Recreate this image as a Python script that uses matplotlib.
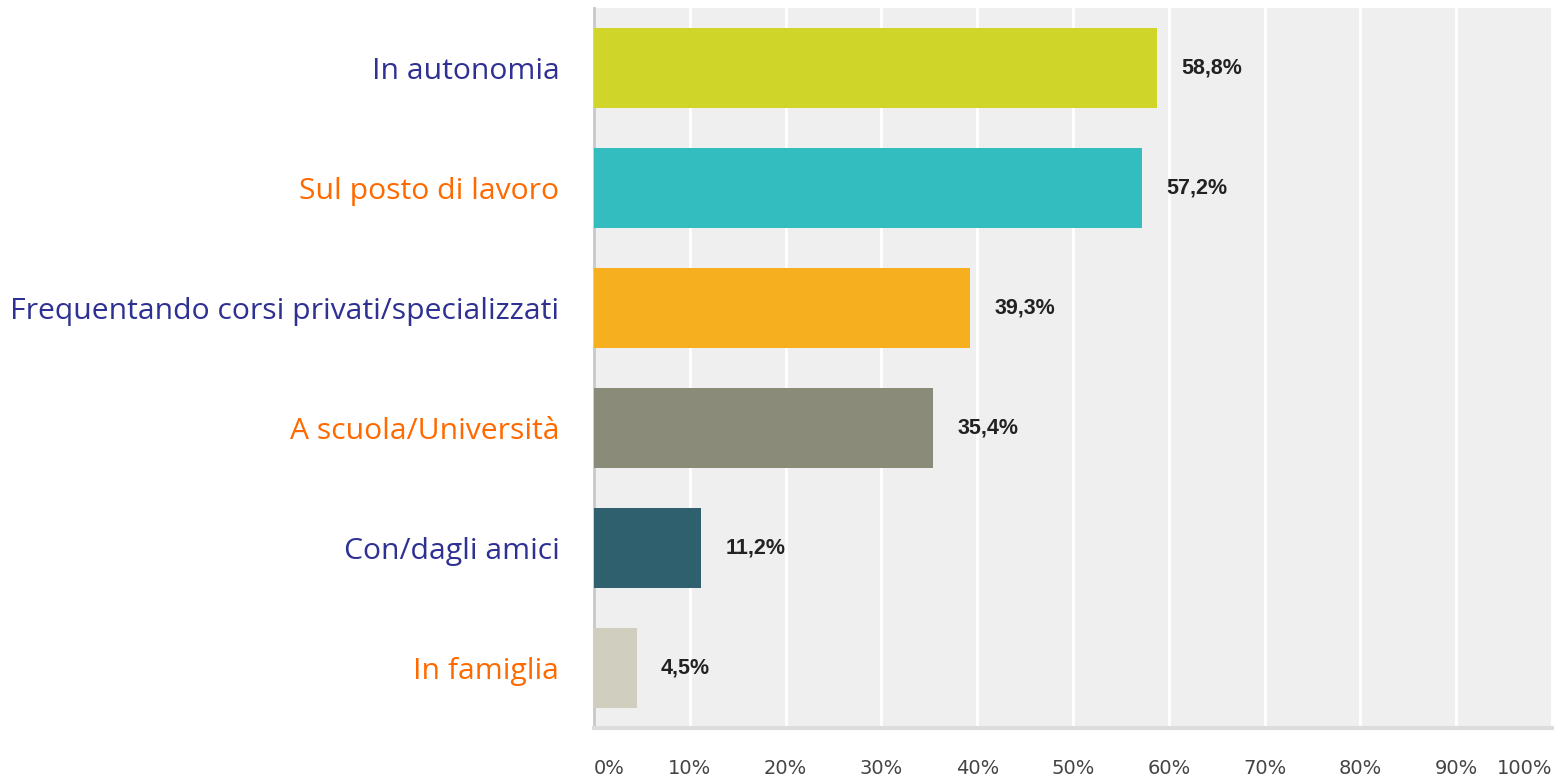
import matplotlib.pyplot as plt
from matplotlib.ticker import MultipleLocator

categories = ["In autonomia", "Sul posto di lavoro",
              "Frequentando corsi privati/specializzati",
              "A scuola/Università", "Con/dagli amici", "In famiglia"]
values = [58.8, 57.2, 39.3, 35.4, 11.2, 4.5]
value_labels = ["58,8%", "57,2%", "39,3%", "35,4%", "11,2%", "4,5%"]
bar_colors = ["#d0d52a", "#33bdbf", "#f5af1f", "#8a8b78", "#2e616d", "#d0cfbf"]
label_colors = ["#2e3192", "#ff6a00", "#2e3192", "#ff6a00", "#2e3192", "#ff6a00"]
tick_labels = ["0%", "10%", "20%", "30%", "40%", "50%", "60%", "70%", "80%", "90%", "100%"]

fig = plt.figure(figsize=(15.58, 7.76), dpi=100)
ax = fig.add_axes([594/1558, 1 - 728/776, (1552-594)/1558, 720/776])
ax.set_facecolor("#efefef")

ypos = list(range(len(categories)))
ax.barh(ypos, values, height=0.667, color=bar_colors, zorder=3)
for y, v, t in zip(ypos, values, value_labels):
    ax.annotate(t, (v, y), xytext=(24, 0), textcoords="offset pixels",
                ha="left", va="center", fontsize=15.5, fontweight="bold",
                family="Liberation Sans", color="#222222", zorder=4)

ax.set_xlim(0, 100)
ax.set_ylim(len(categories) - 0.5, -0.5)
ax.xaxis.set_major_locator(MultipleLocator(10))
ax.grid(axis="x", color="white", linewidth=2, zorder=1)
ax.set_axisbelow(True)

ax.set_yticks(ypos)
ax.set_yticklabels(categories, fontsize=21.7, family="Open Sans")
for lab, c in zip(ax.get_yticklabels(), label_colors):
    lab.set_color(c)
ax.tick_params(axis="y", length=0, pad=25)

ax.set_xticks(range(0, 101, 10))
ax.set_xticklabels(tick_labels, fontsize=14, family="Liberation Sans Narrow", color="#444444")
ax.tick_params(axis="x", length=0, pad=22)
xl = ax.get_xticklabels()
xl[0].set_ha("left")
xl[-1].set_ha("right")

for s in ["top", "right"]:
    ax.spines[s].set_visible(False)
ax.spines["left"].set_color("#c8c8c8")
ax.spines["left"].set_linewidth(2)
ax.spines["bottom"].set_color("#dddddd")
ax.spines["bottom"].set_linewidth(3)

fig.savefig("out.png", dpi=100, facecolor="white")
